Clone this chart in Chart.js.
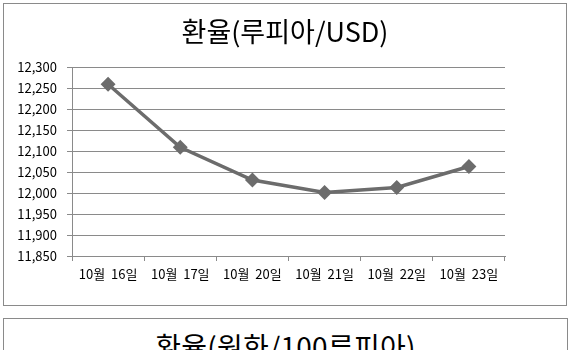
<!DOCTYPE html>
<html><head><meta charset="utf-8">
<script src="https://cdn.jsdelivr.net/npm/chart.js@4/dist/chart.umd.min.js"></script>
<style>
html,body{margin:0;padding:0;background:#fff;width:571px;height:350px;overflow:hidden;}
#box1{position:absolute;left:3px;top:3px;width:562px;height:301px;border:1px solid #8a8a8a;}
#box2{position:absolute;left:3px;top:318px;width:563px;height:60px;border:1px solid #8a8a8a;overflow:hidden;}
#t2{position:absolute;left:0;right:0;top:10px;text-align:center;font-family:'Noto Sans CJK KR';font-size:28px;line-height:34px;color:#000;letter-spacing:0.3px;}
canvas{display:block;}
</style></head><body>
<div id="box1"><canvas id="c1" width="562" height="301"></canvas></div>
<div id="box2"><div id="t2">환율(원화/100루피아)</div></div>
<script>
const title1 = '환율(루피아/USD)';
const categories = ['10월  16일','10월  17일','10월  20일','10월  21일','10월  22일','10월  23일'];
const rateUSD = [12259, 12109, 12031, 12001, 12013, 12063];
const yMin = 11850, yMax = 12300, yStep = 50;

new Chart(document.getElementById('c1'), {
  type: 'line',
  data: {
    labels: categories,
    datasets: [{
      data: rateUSD,
      borderColor: '#6c6c6c',
      backgroundColor: '#6c6c6c',
      borderWidth: 3.5,
      pointStyle: 'rectRot',
      pointRadius: 5,
      pointBackgroundColor: '#6c6c6c',
      pointBorderColor: '#6c6c6c',
      tension: 0,
      fill: false
    }]
  },
  options: {
    responsive: false,
    animation: false,
    devicePixelRatio: 1,
    layout: { padding: 0 },
    plugins: {
      legend: { display: false },
      tooltip: { enabled: false },
      title: {
        display: true,
        text: title1,
        color: '#000',
        font: { family: 'Noto Sans CJK KR', size: 27, weight: 'normal', lineHeight: 1.2 },
        padding: { top: 12, bottom: 18.6 }
      }
    },
    scales: {
      x: {
        offset: true,
        grid: { display: true, drawOnChartArea: false, drawTicks: true, tickLength: 5, color: '#8a8a8a', offset: true },
        border: { display: true, color: '#8a8a8a', width: 1 },
        ticks: { color: '#000', font: { family: 'Noto Sans CJK KR', size: 13 }, padding: 5, maxRotation: 0, autoSkip: false },
        afterFit: s => { s.height = 49; }
      },
      y: {
        min: yMin, max: yMax,
        grid: { color: '#8a8a8a', lineWidth: 1, tickLength: 5 },
        border: { display: true, color: '#8a8a8a', width: 1 },
        ticks: {
          stepSize: yStep,
          color: '#000',
          padding: 10,
          font: { family: 'Noto Sans CJK KR', size: 13 },
          callback: v => v.toLocaleString('en-US')
        },
        afterFit: s => { s.width = 68; }
      },
      yRight: {
        position: 'right',
        min: yMin, max: yMax,
        grid: { display: false },
        border: { display: false },
        ticks: { display: false },
        afterFit: s => { s.width = 61; }
      }
    }
  }
});
</script>
</body></html>
